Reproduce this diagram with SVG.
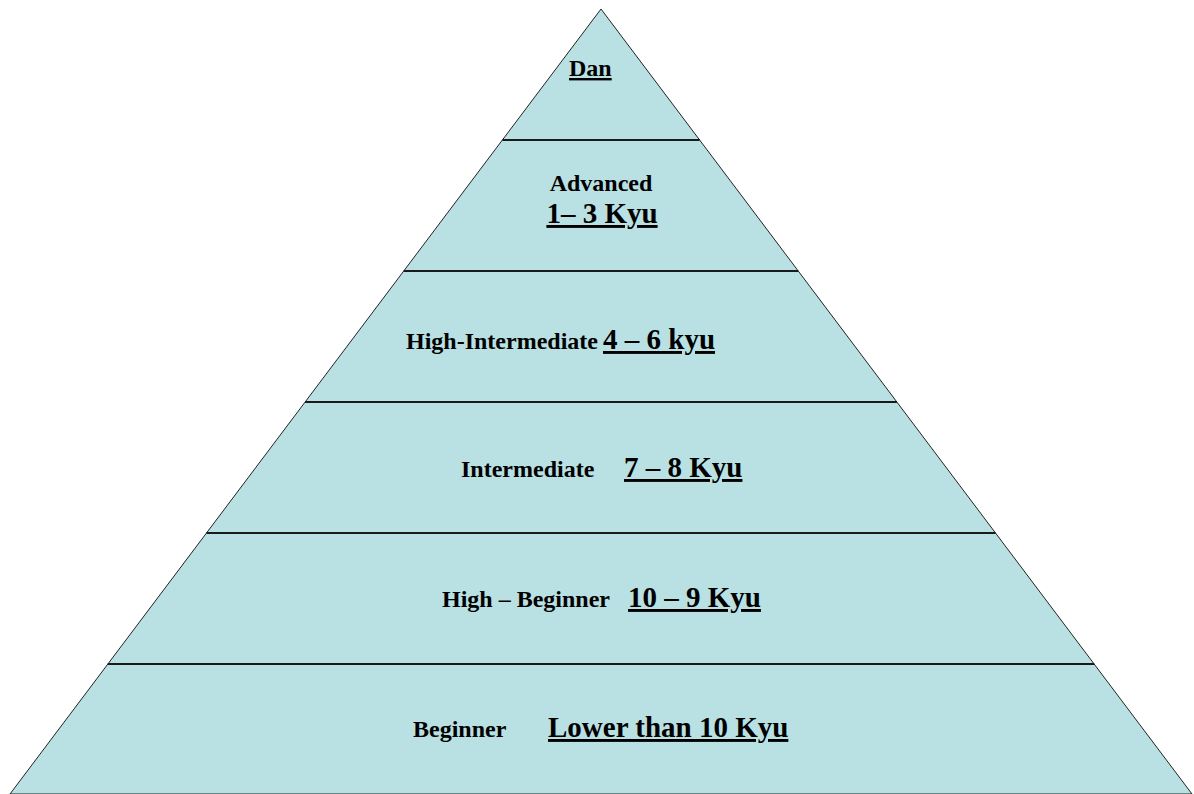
<svg xmlns="http://www.w3.org/2000/svg" width="1194" height="794" viewBox="0 0 1194 794">
<style>
.t{font-family:"Liberation Serif","Times New Roman",serif;font-weight:bold;fill:#000}
.s{font-size:24px}
.b{font-size:29px}
.u{text-decoration:underline;text-decoration-thickness:3px}
.div{stroke:#1a1a1a;stroke-width:2}
</style>
<rect width="1194" height="794" fill="#fff"/>
<g id="pyramid">
<polygon points="601,9 10,794 1192,794" fill="#B9E0E3" stroke="#222" stroke-width="1"/>
</g>
<g id="dividers">
<line class="div" x1="502.4" y1="140" x2="699.6" y2="140"/>
<line class="div" x1="403.8" y1="271" x2="798.2" y2="271"/>
<line class="div" x1="305.1" y1="402" x2="896.9" y2="402"/>
<line class="div" x1="206.5" y1="533" x2="995.5" y2="533"/>
<line class="div" x1="107.8" y1="664" x2="1094.2" y2="664"/>
</g>
<g id="dan">
<text class="t s u" x="569" y="76">Dan</text>
</g>
<g id="advanced">
<text class="t s" x="601" y="191" text-anchor="middle">Advanced</text>
<text class="t b u" x="602" y="223" text-anchor="middle">1– 3 Kyu</text>
</g>
<g id="high-intermediate">
<text class="t s" x="406" y="349">High-Intermediate</text>
<text class="t b u" x="603" y="349">4 – 6 kyu</text>
</g>
<g id="intermediate">
<text class="t s" x="461" y="477">Intermediate</text>
<text class="t b u" x="624" y="477">7 – 8 Kyu</text>
</g>
<g id="high-beginner">
<text class="t s" x="442" y="607">High – Beginner</text>
<text class="t b u" x="628" y="607">10 – 9 Kyu</text>
</g>
<g id="beginner">
<text class="t s" x="413" y="737">Beginner</text>
<text class="t b u" x="548" y="737">Lower than 10 Kyu</text>
</g>
</svg>
